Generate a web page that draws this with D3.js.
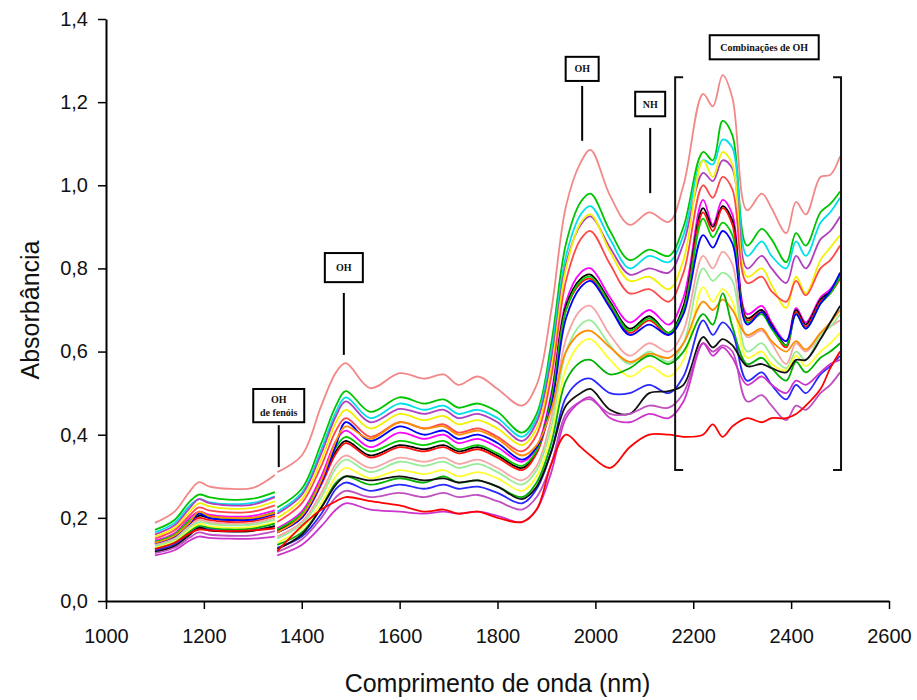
<!DOCTYPE html>
<html>
<head>
<meta charset="utf-8">
<script src="https://cdn.jsdelivr.net/npm/d3@7"></script>
<style>
  body { margin: 0; background: #fff; }
  svg { display: block; }
</style>
</head>
<body>
<svg id="chart"></svg>
<script>
// wavelengths (nm) of the two detector segments
const wavelengthsSeg1 = [1100, 1140, 1170, 1190, 1210, 1250, 1300, 1345];
const wavelengthsSeg2 = [1350, 1400, 1440, 1470, 1490, 1540, 1600, 1650, 1690, 1720, 1760, 1800, 1850, 1880, 1910,
  1940, 1970, 1990, 2030, 2070, 2110, 2150, 2180, 2220, 2240, 2260, 2280, 2310, 2340, 2360, 2390, 2410, 2430,
  2460, 2480, 2500];

// absorbance, one row per sample (segment 1)
const spectraSeg1 = [
  [0.188, 0.215, 0.262, 0.286, 0.276, 0.270, 0.272, 0.303],
  [0.171, 0.195, 0.238, 0.256, 0.250, 0.244, 0.246, 0.262],
  [0.165, 0.188, 0.228, 0.245, 0.238, 0.233, 0.236, 0.252],
  [0.160, 0.182, 0.222, 0.245, 0.236, 0.230, 0.232, 0.250],
  [0.155, 0.176, 0.214, 0.235, 0.228, 0.222, 0.224, 0.240],
  [0.150, 0.170, 0.205, 0.225, 0.218, 0.213, 0.215, 0.230],
  [0.145, 0.163, 0.198, 0.215, 0.208, 0.203, 0.205, 0.218],
  [0.140, 0.158, 0.190, 0.205, 0.200, 0.195, 0.197, 0.210],
  [0.138, 0.155, 0.186, 0.200, 0.195, 0.190, 0.192, 0.205],
  [0.142, 0.160, 0.193, 0.210, 0.204, 0.199, 0.200, 0.214],
  [0.136, 0.153, 0.184, 0.210, 0.200, 0.195, 0.196, 0.210],
  [0.135, 0.150, 0.180, 0.195, 0.190, 0.186, 0.188, 0.200],
  [0.132, 0.147, 0.176, 0.190, 0.186, 0.182, 0.184, 0.196],
  [0.128, 0.143, 0.170, 0.185, 0.180, 0.176, 0.178, 0.190],
  [0.140, 0.157, 0.188, 0.215, 0.205, 0.200, 0.200, 0.212],
  [0.125, 0.140, 0.166, 0.180, 0.176, 0.172, 0.174, 0.186],
  [0.122, 0.136, 0.162, 0.176, 0.172, 0.168, 0.170, 0.180],
  [0.118, 0.132, 0.158, 0.176, 0.170, 0.167, 0.169, 0.180],
  [0.115, 0.128, 0.152, 0.165, 0.160, 0.157, 0.158, 0.168],
  [0.110, 0.122, 0.145, 0.155, 0.152, 0.150, 0.150, 0.155],
  [0.125, 0.140, 0.162, 0.172, 0.170, 0.168, 0.170, 0.175]
];

// absorbance, one row per sample (segment 2)
const spectraSeg2 = [
  [0.31, 0.35, 0.47, 0.55, 0.572, 0.512, 0.548, 0.535, 0.545, 0.52, 0.54, 0.51, 0.47, 0.52, 0.70, 0.95, 1.055, 1.085, 0.975, 0.905, 0.935, 0.912, 1.0, 1.22, 1.19, 1.265, 1.21, 0.94, 0.98, 0.945, 0.885, 0.96, 0.93, 1.02, 1.025, 1.07],
  [0.225, 0.27, 0.38, 0.47, 0.505, 0.455, 0.49, 0.475, 0.485, 0.465, 0.475, 0.455, 0.405, 0.45, 0.62, 0.86, 0.96, 0.98, 0.89, 0.82, 0.845, 0.83, 0.9, 1.08, 1.06, 1.155, 1.12, 0.855, 0.895, 0.87, 0.815, 0.885, 0.855, 0.935, 0.955, 0.985],
  [0.215, 0.26, 0.365, 0.455, 0.49, 0.44, 0.475, 0.46, 0.47, 0.45, 0.46, 0.44, 0.395, 0.44, 0.60, 0.83, 0.93, 0.95, 0.87, 0.80, 0.83, 0.815, 0.88, 1.06, 1.05, 1.11, 1.09, 0.83, 0.865, 0.83, 0.80, 0.865, 0.83, 0.91, 0.935, 0.97],
  [0.21, 0.255, 0.355, 0.445, 0.48, 0.43, 0.462, 0.45, 0.46, 0.44, 0.45, 0.43, 0.385, 0.43, 0.58, 0.81, 0.905, 0.925, 0.85, 0.785, 0.80, 0.79, 0.86, 1.03, 1.01, 1.06, 1.04, 0.80, 0.83, 0.80, 0.765, 0.83, 0.80, 0.87, 0.89, 0.925],
  [0.20, 0.245, 0.34, 0.43, 0.46, 0.415, 0.45, 0.435, 0.445, 0.425, 0.435, 0.415, 0.375, 0.415, 0.56, 0.80, 0.91, 0.93, 0.84, 0.77, 0.78, 0.75, 0.82, 1.06, 1.02, 1.08, 1.05, 0.78, 0.80, 0.76, 0.705, 0.78, 0.74, 0.82, 0.85, 0.88],
  [0.19, 0.235, 0.325, 0.41, 0.44, 0.395, 0.43, 0.415, 0.425, 0.405, 0.415, 0.395, 0.36, 0.40, 0.54, 0.77, 0.87, 0.89, 0.81, 0.74, 0.75, 0.72, 0.79, 1.0, 0.97, 1.02, 0.99, 0.765, 0.78, 0.745, 0.72, 0.77, 0.735, 0.80, 0.82, 0.855],
  [0.175, 0.215, 0.30, 0.385, 0.41, 0.37, 0.405, 0.39, 0.40, 0.38, 0.39, 0.37, 0.335, 0.37, 0.50, 0.72, 0.79, 0.80, 0.73, 0.67, 0.70, 0.665, 0.73, 0.965, 0.905, 0.965, 0.93, 0.69, 0.71, 0.67, 0.625, 0.705, 0.67, 0.73, 0.75, 0.785],
  [0.17, 0.205, 0.285, 0.36, 0.385, 0.35, 0.375, 0.365, 0.375, 0.36, 0.37, 0.35, 0.32, 0.36, 0.49, 0.71, 0.775, 0.785, 0.72, 0.655, 0.685, 0.645, 0.71, 0.945, 0.90, 0.95, 0.915, 0.68, 0.70, 0.665, 0.615, 0.70, 0.665, 0.725, 0.745, 0.78],
  [0.165, 0.20, 0.28, 0.355, 0.38, 0.345, 0.37, 0.36, 0.37, 0.355, 0.365, 0.345, 0.315, 0.355, 0.48, 0.70, 0.765, 0.775, 0.71, 0.645, 0.675, 0.64, 0.70, 0.935, 0.89, 0.945, 0.905, 0.675, 0.695, 0.66, 0.61, 0.695, 0.66, 0.72, 0.74, 0.775],
  [0.172, 0.21, 0.29, 0.37, 0.395, 0.36, 0.385, 0.375, 0.385, 0.365, 0.375, 0.355, 0.325, 0.362, 0.485, 0.70, 0.77, 0.78, 0.715, 0.65, 0.68, 0.645, 0.70, 0.92, 0.875, 0.91, 0.88, 0.67, 0.69, 0.655, 0.615, 0.69, 0.655, 0.715, 0.74, 0.78],
  [0.165, 0.20, 0.285, 0.375, 0.43, 0.385, 0.42, 0.40, 0.41, 0.39, 0.40, 0.38, 0.34, 0.37, 0.47, 0.68, 0.755, 0.77, 0.705, 0.64, 0.665, 0.64, 0.69, 0.88, 0.85, 0.89, 0.86, 0.665, 0.695, 0.66, 0.625, 0.69, 0.655, 0.715, 0.745, 0.79],
  [0.155, 0.19, 0.26, 0.33, 0.35, 0.32, 0.345, 0.335, 0.345, 0.33, 0.34, 0.32, 0.29, 0.325, 0.44, 0.63, 0.70, 0.71, 0.64, 0.59, 0.62, 0.60, 0.65, 0.83, 0.80, 0.84, 0.81, 0.635, 0.65, 0.62, 0.57, 0.62, 0.60, 0.64, 0.66, 0.675],
  [0.15, 0.185, 0.25, 0.32, 0.34, 0.31, 0.335, 0.325, 0.335, 0.32, 0.33, 0.31, 0.28, 0.315, 0.42, 0.60, 0.665, 0.675, 0.615, 0.57, 0.60, 0.575, 0.62, 0.80, 0.77, 0.79, 0.77, 0.60, 0.62, 0.59, 0.56, 0.60, 0.58, 0.64, 0.66, 0.69],
  [0.14, 0.175, 0.235, 0.30, 0.32, 0.295, 0.315, 0.305, 0.315, 0.30, 0.31, 0.295, 0.265, 0.30, 0.40, 0.56, 0.62, 0.63, 0.58, 0.54, 0.565, 0.54, 0.58, 0.755, 0.72, 0.75, 0.72, 0.585, 0.60, 0.57, 0.555, 0.59, 0.565, 0.60, 0.62, 0.645],
  [0.165, 0.205, 0.29, 0.385, 0.42, 0.39, 0.43, 0.415, 0.42, 0.40, 0.41, 0.39, 0.35, 0.375, 0.46, 0.60, 0.645, 0.65, 0.61, 0.575, 0.595, 0.585, 0.62, 0.72, 0.70, 0.725, 0.70, 0.64, 0.655, 0.625, 0.60, 0.625, 0.605, 0.645, 0.67, 0.70],
  [0.135, 0.165, 0.225, 0.285, 0.30, 0.28, 0.295, 0.285, 0.30, 0.285, 0.29, 0.275, 0.25, 0.285, 0.38, 0.53, 0.575, 0.58, 0.545, 0.56, 0.59, 0.57, 0.60, 0.69, 0.665, 0.74, 0.66, 0.57, 0.585, 0.56, 0.53, 0.575, 0.55, 0.585, 0.60, 0.62],
  [0.128, 0.155, 0.21, 0.27, 0.285, 0.265, 0.28, 0.27, 0.28, 0.27, 0.275, 0.26, 0.235, 0.27, 0.36, 0.49, 0.53, 0.535, 0.50, 0.50, 0.52, 0.50, 0.54, 0.675, 0.64, 0.67, 0.645, 0.53, 0.55, 0.52, 0.485, 0.52, 0.50, 0.545, 0.565, 0.59],
  [0.125, 0.16, 0.225, 0.28, 0.30, 0.29, 0.30, 0.29, 0.295, 0.285, 0.29, 0.275, 0.245, 0.275, 0.36, 0.47, 0.50, 0.51, 0.46, 0.45, 0.50, 0.505, 0.52, 0.635, 0.61, 0.63, 0.615, 0.565, 0.57, 0.56, 0.55, 0.58, 0.58, 0.63, 0.67, 0.71],
  [0.118, 0.148, 0.20, 0.25, 0.265, 0.25, 0.26, 0.25, 0.26, 0.25, 0.255, 0.24, 0.22, 0.25, 0.33, 0.45, 0.48, 0.485, 0.45, 0.45, 0.47, 0.465, 0.50, 0.62, 0.60, 0.615, 0.60, 0.48, 0.495, 0.47, 0.435, 0.47, 0.46, 0.50, 0.52, 0.55],
  [0.11, 0.135, 0.18, 0.22, 0.235, 0.22, 0.215, 0.21, 0.215, 0.21, 0.215, 0.205, 0.19, 0.22, 0.31, 0.44, 0.48, 0.49, 0.44, 0.43, 0.45, 0.44, 0.48, 0.62, 0.59, 0.61, 0.585, 0.52, 0.54, 0.52, 0.50, 0.53, 0.52, 0.55, 0.57, 0.58],
  [0.12, 0.18, 0.22, 0.24, 0.25, 0.24, 0.23, 0.215, 0.22, 0.21, 0.215, 0.20, 0.19, 0.22, 0.33, 0.40, 0.37, 0.35, 0.32, 0.37, 0.40, 0.40, 0.395, 0.40, 0.425, 0.395, 0.42, 0.44, 0.43, 0.44, 0.44, 0.45, 0.47, 0.51, 0.56, 0.60]
];

const sampleColors = ["#f28888", "#00c400", "#00e0ea", "#b040c0", "#f2f200", "#ff4848", "#ff00ff",
  "#000000", "#ff1010", "#00cc00", "#0000ff", "#f5a5a5", "#98ec98", "#ffff30", "#ff8c00", "#00b000",
  "#2828ff", "#111111", "#c050c0", "#cc33cc", "#ff0000"];

const xTicks = [1000, 1200, 1400, 1600, 1800, 2000, 2200, 2400, 2600];
const yTicks = [0, 0.2, 0.4, 0.6, 0.8, 1.0, 1.2, 1.4];

// band labels: wavelength of pointer, absorbance span of the pointer line
const bandLabels = [
  { text: ["OH", "de fenóis"], nm: 1353, top: 0.51, bottom: 0.43, lineFrom: 0.423, lineTo: 0.322, w: 51 },
  { text: ["OH"], nm: 1486, top: 0.837, bottom: 0.767, lineFrom: 0.741, lineTo: 0.592, w: 38 },
  { text: ["OH"], nm: 1973, top: 1.309, bottom: 1.251, lineFrom: 1.239, lineTo: 1.107, w: 33 },
  { text: ["NH"], nm: 2112, top: 1.225, bottom: 1.166, lineFrom: 1.138, lineTo: 0.981, w: 30 }
];

const W = 917, H = 700;
const svg = d3.select("#chart").attr("width", W).attr("height", H)
  .style("font-family", "Liberation Sans, Arial, sans-serif");

const x = d3.scaleLinear().domain([1000, 2600]).range([106, 889]);
const y = d3.scaleLinear().domain([0, 1.4]).range([601, 19]);

// spectra
const lineA = d3.line().x((d, i) => x(wavelengthsSeg1[i])).y(d => y(d)).curve(d3.curveCatmullRom);
const lineB = d3.line().x((d, i) => x(wavelengthsSeg2[i])).y(d => y(d)).curve(d3.curveCatmullRom);

const spectra = svg.append("g").attr("fill", "none").attr("stroke-width", 1.8);
spectraSeg1.forEach((row, k) => {
  spectra.append("path").attr("d", lineA(row)).attr("stroke", sampleColors[k]);
  spectra.append("path").attr("d", lineB(spectraSeg2[k])).attr("stroke", sampleColors[k]);
});

// axes
const xAxis = svg.append("g").attr("transform", "translate(0,601)")
  .call(d3.axisBottom(x).tickValues(xTicks).tickSize(8).tickSizeOuter(0).tickPadding(20).tickFormat(d3.format("d")));
const yAxis = svg.append("g").attr("transform", "translate(106,0)")
  .call(d3.axisLeft(y).tickValues(yTicks).tickSize(8).tickSizeOuter(0).tickPadding(10)
    .tickFormat(d => d3.format(".1f")(d).replace(".", ",")));

[xAxis, yAxis].forEach(g => {
  g.select(".domain").attr("stroke", "#000").attr("stroke-width", 2);
  g.selectAll(".tick line").attr("stroke", "#000").attr("stroke-width", 1.5);
  g.selectAll(".tick text").attr("fill", "#111").style("font-size", "20px")
    .style("font-family", "Liberation Sans, Arial, sans-serif");
});

svg.append("text").attr("x", (x(1000) + x(2600)) / 2).attr("y", 683).attr("dy", "0.35em")
  .attr("text-anchor", "middle").style("font-size", "25px").attr("fill", "#111")
  .text("Comprimento de onda (nm)");

svg.append("text").attr("transform", "translate(30,310) rotate(-90)").attr("dy", "0.35em")
  .attr("text-anchor", "middle").style("font-size", "25px").attr("fill", "#111")
  .text("Absorbância");

// annotations
const notes = svg.append("g").style("font-family", "Liberation Serif, Times New Roman, serif")
  .style("font-weight", "bold").attr("fill", "#111");

bandLabels.forEach(b => {
  const cx = x(b.nm);
  const y0 = y(b.top), y1 = y(b.bottom);
  notes.append("rect").attr("x", cx - b.w / 2).attr("y", y0).attr("width", b.w).attr("height", y1 - y0)
    .attr("fill", "#fff").attr("stroke", "#000").attr("stroke-width", 2);
  const n = b.text.length;
  b.text.forEach((t, i) => {
    notes.append("text").attr("x", cx).attr("y", (y0 + y1) / 2 + (i - (n - 1) / 2) * 13).attr("dy", "0.35em")
      .attr("text-anchor", "middle").style("font-size", "10px").text(t);
  });
  notes.append("line").attr("x1", cx).attr("x2", cx).attr("y1", y(b.lineFrom)).attr("y2", y(b.lineTo))
    .attr("stroke", "#000").attr("stroke-width", 2);
});

// combination band box and bracket
const comboBox = { nm: 2345, top: 1.361, bottom: 1.303, w: 109 };
notes.append("rect").attr("x", x(comboBox.nm) - comboBox.w / 2).attr("y", y(comboBox.top))
  .attr("width", comboBox.w).attr("height", y(comboBox.bottom) - y(comboBox.top))
  .attr("fill", "#fff").attr("stroke", "#000").attr("stroke-width", 2);
notes.append("text").attr("x", x(comboBox.nm)).attr("y", (y(comboBox.top) + y(comboBox.bottom)) / 2)
  .attr("dy", "0.35em").attr("text-anchor", "middle").style("font-size", "10px").text("Combinações de OH");

const bracket = { left: 2163, right: 2502, top: 1.26, bottom: 0.315 };
const bx0 = x(bracket.left), bx1 = x(bracket.right), by0 = y(bracket.top), by1 = y(bracket.bottom);
svg.append("path")
  .attr("d", `M${bx0 + 8},${by0}H${bx0}V${by1}H${bx0 + 8}M${bx1 - 8},${by0}H${bx1}V${by1}H${bx1 - 8}`)
  .attr("fill", "none").attr("stroke", "#111").attr("stroke-width", 2);
</script>
</body>
</html>
